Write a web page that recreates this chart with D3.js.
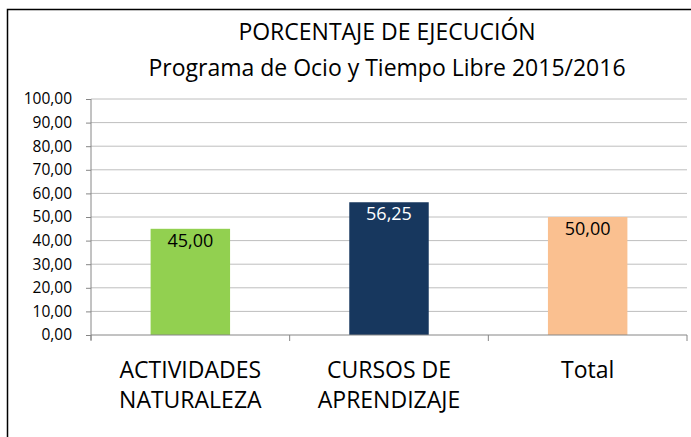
<!DOCTYPE html>
<html>
<head>
<meta charset="utf-8">
<script src="https://cdn.jsdelivr.net/npm/d3@7"></script>
<style>
  body { margin: 0; background: #fff; }
  text { font-family: "Open Sans", "Noto Sans", sans-serif; }
</style>
</head>
<body>
<div id="chart"></div>
<script>
// data
const categories = [["ACTIVIDADES", "NATURALEZA"], ["CURSOS DE", "APRENDIZAJE"], ["Total"]];
const values = [45.00, 56.25, 50.00];
const barColors = ["#92D050", "#17375E", "#FAC090"];
const labelColors = ["#000", "#fff", "#000"];
const yTicks = [0, 10, 20, 30, 40, 50, 60, 70, 80, 90, 100];
const titleLines = ["PORCENTAJE DE EJECUCIÓN", "Programa de Ocio y Tiempo Libre 2015/2016"];

const width = 691, height = 437;
const margin = {left: 91, right: 4, top: 99, bottom: 102};

const svg = d3.select("#chart")
    .append("svg")
    .attr("width", width)
    .attr("height", height);

// outer frame (cut off at right and bottom)
svg.append("path")
    .attr("d", "M7.5," + (height + 5) + "V9.5H" + (width + 5))
    .attr("fill", "none")
    .attr("stroke", "#000")
    .attr("stroke-width", 1.5);

const x = d3.scaleBand()
    .domain(d3.range(values.length))
    .range([margin.left, width - margin.right])
    .paddingInner(0.6)
    .paddingOuter(0.3);

const y = d3.scaleLinear()
    .domain([0, 100])
    .range([height - margin.bottom, margin.top]);

const fmt = v => d3.format(".2f")(v).replace(".", ",");

// gridlines
svg.append("g")
    .selectAll("line")
    .data(yTicks.filter(d => d > 0))
    .enter().append("line")
    .attr("x1", margin.left)
    .attr("x2", width - margin.right)
    .attr("y1", d => y(d))
    .attr("y2", d => y(d))
    .attr("stroke", "#BEBEBE")
    .attr("stroke-width", 1);

// y axis
const yAxis = svg.append("g")
    .attr("transform", "translate(" + margin.left + ",0)")
    .call(d3.axisLeft(y).tickValues(yTicks).tickFormat(fmt).tickSize(5).tickPadding(14));
yAxis.select(".domain").attr("stroke", "#868686").attr("d", "M0," + (y(0) + 5) + "V" + y(100));
yAxis.selectAll(".tick line").attr("stroke", "#868686");
yAxis.selectAll(".tick text")
    .style("font-size", "15.5px")
    .attr("fill", "#000");

// bars
svg.append("g")
    .selectAll("rect")
    .data(values)
    .enter().append("rect")
    .attr("x", (d, i) => x(i))
    .attr("y", d => y(d))
    .attr("width", x.bandwidth())
    .attr("height", d => y(0) - y(d))
    .attr("fill", (d, i) => barColors[i]);

// data labels
svg.append("g")
    .selectAll("text")
    .data(values)
    .enter().append("text")
    .attr("x", (d, i) => x(i) + x.bandwidth() / 2)
    .attr("y", d => y(d) + 18)
    .attr("text-anchor", "middle")
    .style("font-size", "18px")
    .attr("fill", (d, i) => labelColors[i])
    .text(d => fmt(d));

// x axis baseline and category boundary ticks
const step = x.step();
const bounds = d3.range(values.length + 1).map(i => margin.left + i * step);
svg.append("line")
    .attr("x1", margin.left).attr("x2", width - margin.right)
    .attr("y1", y(0)).attr("y2", y(0))
    .attr("stroke", "#868686");
svg.append("g")
    .selectAll("line")
    .data(bounds)
    .enter().append("line")
    .attr("x1", d => d).attr("x2", d => d)
    .attr("y1", y(0)).attr("y2", y(0) + 6)
    .attr("stroke", "#868686");

// category labels
const cat = svg.append("g")
    .selectAll("text")
    .data(categories)
    .enter().append("text")
    .attr("x", (d, i) => x(i) + x.bandwidth() / 2)
    .attr("y", 378)
    .attr("text-anchor", "middle")
    .style("font-size", "23px")
    .attr("fill", "#000");
cat.selectAll("tspan")
    .data(d => d)
    .enter().append("tspan")
    .attr("x", function () { return this.parentNode.getAttribute("x"); })
    .attr("dy", (d, i) => i === 0 ? 0 : 30)
    .text(d => d);

// title
svg.append("g")
    .selectAll("text")
    .data(titleLines)
    .enter().append("text")
    .attr("x", 387)
    .attr("y", (d, i) => 40 + i * 36)
    .attr("text-anchor", "middle")
    .style("font-size", "23px")
    .attr("fill", "#000")
    .text(d => d);
</script>
</body>
</html>
